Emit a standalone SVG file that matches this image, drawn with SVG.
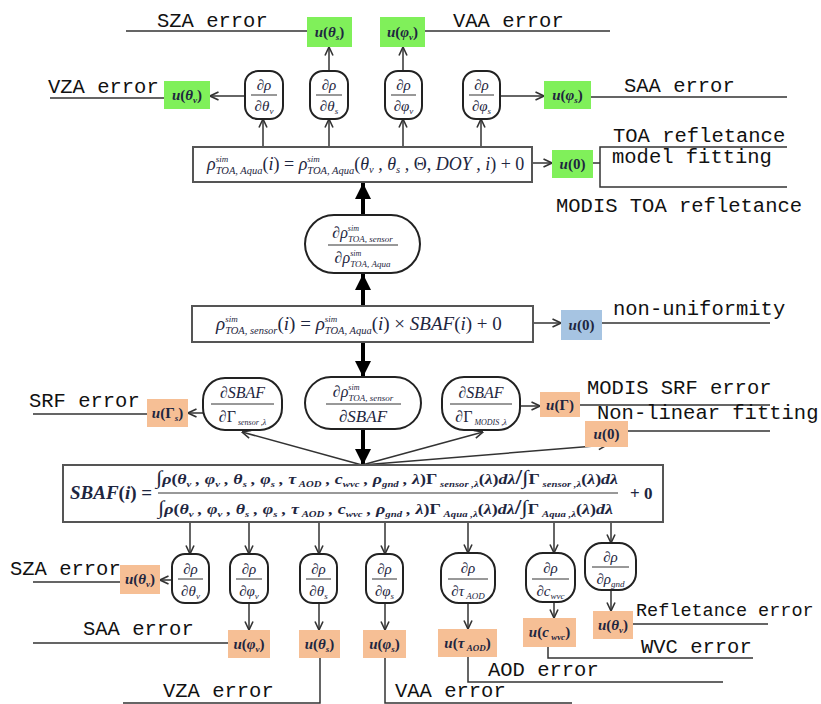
<svg xmlns="http://www.w3.org/2000/svg" width="821" height="704" viewBox="0 0 821 704">
<defs>
<style>
.lbl{font-family:"Liberation Mono","DejaVu Sans Mono",monospace;font-size:20.5px;fill:#111}
.m{font-family:"Liberation Serif","Times New Roman",serif;font-style:italic;fill:#1e2640}
.u{font-size:15px;font-weight:bold}
.f{font-size:15px}
.up{font-style:normal}
.s{font-size:9px}
.sp{font-size:8px}
.s2{font-size:10.5px}
.sp2{font-size:9px}
.box{fill:#fff;stroke:#555;stroke-width:2}
.nd{fill:#fff;stroke:#222;stroke-width:2}
.ln{stroke:#333;stroke-width:1.5;fill:none}
.ar{stroke:#333;stroke-width:1.5;fill:none;marker-end:url(#ah)}
.tk{stroke:#000;stroke-width:4;fill:none;marker-end:url(#th)}
.fl{stroke:#333;stroke-width:1}
.g{fill:#80f05a}.o{fill:#f6bf95}.b{fill:#a6c4e2}
</style>
<marker id="ah" viewBox="0 0 10 10" refX="9.5" refY="5" markerWidth="10" markerHeight="10" markerUnits="userSpaceOnUse" orient="auto"><path d="M1,1 L9.5,5 L1,9" fill="none" stroke="#333" stroke-width="1.6"/></marker>
<marker id="th" viewBox="0 0 10 10" refX="10" refY="5" markerWidth="18" markerHeight="16" markerUnits="userSpaceOnUse" orient="auto"><path d="M0,0 L10,5 L0,10 Z" fill="#000"/></marker>
</defs>
<rect width="821" height="704" fill="#fff"/>

<g id="connectors">
<path class="ln" d="M126,31 H307 M425,31 H610 M50,98 H164 M591,97 H787 M593,163 H600 M787,147 H600 V187 H787 M602,323 H770 M33,414 H147 M580,405 H770 M628,431 H770 M33,582 H120 M33,643 H228 M320,658 V703 H123 M385,658 V703 H572 M468,657 V682 H723 M548,647 V658 H753 M633,624 H768"/>
<line class="ar" x1="245" y1="96" x2="210" y2="96"/>
<line class="ar" x1="329" y1="71" x2="329" y2="47"/>
<line class="ar" x1="403" y1="71" x2="403" y2="47"/>
<line class="ar" x1="500" y1="96" x2="544" y2="96"/>
<line class="ar" x1="263" y1="147" x2="263" y2="119"/>
<line class="ar" x1="329" y1="147" x2="329" y2="119"/>
<line class="ar" x1="403" y1="147" x2="403" y2="119"/>
<line class="ar" x1="481" y1="147" x2="481" y2="119"/>
<line class="ar" x1="532" y1="163" x2="552" y2="163"/>
<line class="tk" x1="363" y1="215" x2="363" y2="183"/>
<line class="tk" x1="363" y1="306" x2="363" y2="274"/>
<line class="ar" x1="533" y1="323" x2="561" y2="323"/>
<line class="tk" x1="363" y1="342" x2="363" y2="377"/>
<line class="tk" x1="363" y1="429" x2="363" y2="465"/>
<line class="ar" x1="203" y1="413" x2="188" y2="413"/>
<line class="ar" x1="520" y1="406" x2="540" y2="406"/>
<line class="ar" x1="362" y1="465" x2="242" y2="432"/>
<line class="ar" x1="362" y1="465" x2="483" y2="432"/>
<line class="ar" x1="362" y1="465" x2="607" y2="445"/>
<line class="ar" x1="190" y1="522" x2="190" y2="554"/>
<line class="ar" x1="249" y1="522" x2="249" y2="554"/>
<line class="ar" x1="319" y1="522" x2="319" y2="554"/>
<line class="ar" x1="385" y1="522" x2="385" y2="554"/>
<line class="ar" x1="468" y1="522" x2="468" y2="553"/>
<line class="ar" x1="554" y1="522" x2="554" y2="553"/>
<line class="ar" x1="611" y1="522" x2="611" y2="543"/>
<line class="ar" x1="172" y1="580" x2="160" y2="580"/>
<line class="ar" x1="249" y1="603" x2="249" y2="630"/>
<line class="ar" x1="319" y1="603" x2="319" y2="630"/>
<line class="ar" x1="385" y1="603" x2="385" y2="630"/>
<line class="ar" x1="468" y1="603" x2="468" y2="629"/>
<line class="ar" x1="554" y1="602" x2="554" y2="618"/>
<line class="ar" x1="611" y1="590" x2="611" y2="611"/>
</g>

<g id="labels">
<text class="lbl" x="157" y="27">SZA error</text>
<text class="lbl" x="453" y="27">VAA error</text>
<text class="lbl" x="48" y="93">VZA error</text>
<text class="lbl" x="624" y="92">SAA error</text>
<text class="lbl" x="613" y="142">TOA refletance</text>
<text class="lbl" x="612" y="163">model fitting</text>
<text class="lbl" x="556" y="212">MODIS TOA refletance</text>
<text class="lbl" x="613" y="315">non-uniformity</text>
<text class="lbl" x="29" y="407">SRF error</text>
<text class="lbl" x="587" y="394">MODIS SRF error</text>
<text class="lbl" x="597" y="419">Non-linear fitting</text>
<text class="lbl" x="10" y="575">SZA error</text>
<text class="lbl" x="83" y="635">SAA error</text>
<text class="lbl" x="163" y="697">VZA error</text>
<text class="lbl" x="395" y="697">VAA error</text>
<text class="lbl" x="488" y="676">AOD error</text>
<text class="lbl" x="641" y="653">WVC error</text>
<text class="lbl" x="636" y="616" style="font-size:18.5px">Refletance error</text>
</g>

<g id="u_theta_s_top"><rect class="g" x="307" y="17" width="45" height="30"/><text class="m u" x="329.5" y="37" text-anchor="middle">u<tspan class="up">(</tspan>θ<tspan class="s" dy="3">s</tspan><tspan class="up" dy="-3">)</tspan></text></g>
<g id="u_phi_v_top"><rect class="g" x="380" y="17" width="45" height="30"/><text class="m u" x="402.5" y="37" text-anchor="middle">u<tspan class="up">(</tspan>φ<tspan class="s" dy="3">v</tspan><tspan class="up" dy="-3">)</tspan></text></g>
<g id="u_theta_v_top"><rect class="g" x="164" y="81" width="46" height="28"/><text class="m u" x="187" y="100" text-anchor="middle">u<tspan class="up">(</tspan>θ<tspan class="s" dy="3">v</tspan><tspan class="up" dy="-3">)</tspan></text></g>
<g id="u_phi_s_top"><rect class="g" x="544" y="81" width="47" height="28"/><text class="m u" x="567.5" y="100" text-anchor="middle">u<tspan class="up">(</tspan>φ<tspan class="s" dy="3">s</tspan><tspan class="up" dy="-3">)</tspan></text></g>
<g id="u0_top"><rect class="g" x="552" y="150" width="41" height="28"/><text class="m u" x="572.5" y="169" text-anchor="middle">u<tspan class="up">(0)</tspan></text></g>

<g id="n_t1"><rect class="nd" x="245" y="71" width="38" height="48" rx="13"/><text class="m f" x="264" y="90" text-anchor="middle">∂ρ</text><line class="fl" x1="251" y1="95" x2="277" y2="95"/><text class="m f" x="264" y="111" text-anchor="middle">∂θ<tspan class="s" dy="3">v</tspan></text></g>
<g id="n_t2"><rect class="nd" x="310" y="71" width="38" height="48" rx="13"/><text class="m f" x="329" y="90" text-anchor="middle">∂ρ</text><line class="fl" x1="316" y1="95" x2="342" y2="95"/><text class="m f" x="329" y="111" text-anchor="middle">∂θ<tspan class="s" dy="3">s</tspan></text></g>
<g id="n_t3"><rect class="nd" x="385" y="71" width="37" height="48" rx="13"/><text class="m f" x="403.5" y="90" text-anchor="middle">∂ρ</text><line class="fl" x1="391" y1="95" x2="416" y2="95"/><text class="m f" x="403.5" y="111" text-anchor="middle">∂φ<tspan class="s" dy="3">v</tspan></text></g>
<g id="n_t4"><rect class="nd" x="463" y="71" width="37" height="48" rx="13"/><text class="m f" x="481.5" y="90" text-anchor="middle">∂ρ</text><line class="fl" x1="469" y1="95" x2="494" y2="95"/><text class="m f" x="481.5" y="111" text-anchor="middle">∂φ<tspan class="s" dy="3">s</tspan></text></g>

<g id="box_aqua"><rect class="box" x="193" y="147" width="339" height="35"/><text class="m" font-size="18" x="207" y="170">ρ<tspan class="sp2" dy="-8">sim</tspan><tspan class="s2" dx="-12.5" dy="12">TOA, Aqua</tspan><tspan class="up" dy="-4">(</tspan>i<tspan class="up">) = </tspan>ρ<tspan class="sp2" dy="-8">sim</tspan><tspan class="s2" dx="-12.5" dy="12">TOA, Aqua</tspan><tspan class="up" dy="-4">(</tspan>θ<tspan class="s2" dy="3">v</tspan><tspan dy="-3"> , </tspan>θ<tspan class="s2" dy="3">s</tspan><tspan dy="-3"> , </tspan><tspan class="up">Θ, </tspan>DOY , i<tspan class="up">) + 0</tspan></text></g>

<g id="n_ratio_aqua"><rect class="nd" x="305" y="215" width="115" height="58" rx="29"/><text class="m" font-size="16" x="362.5" y="238" text-anchor="middle">∂ρ<tspan class="sp" dy="-7">sim</tspan><tspan class="s" dx="-11" dy="11">TOA, sensor</tspan></text><line class="fl" x1="328" y1="245" x2="398" y2="245"/><text class="m" font-size="16" x="362.5" y="263" text-anchor="middle">∂ρ<tspan class="sp" dy="-7">sim</tspan><tspan class="s" dx="-11" dy="11">TOA, Aqua</tspan></text></g>

<g id="box_sensor"><rect class="box" x="192" y="306" width="341" height="36"/><text class="m" font-size="19" x="216" y="330">ρ<tspan class="sp2" dy="-8">sim</tspan><tspan class="s2" dx="-12.5" dy="12">TOA, sensor</tspan><tspan class="up" dy="-4">(</tspan>i<tspan class="up">) = </tspan>ρ<tspan class="sp2" dy="-8">sim</tspan><tspan class="s2" dx="-12.5" dy="12">TOA, Aqua</tspan><tspan class="up" dy="-4">(</tspan>i<tspan class="up">) × </tspan>SBAF<tspan class="up">(</tspan>i<tspan class="up">)  + 0</tspan></text></g>
<g id="u0_blue"><rect class="b" x="561" y="310" width="41" height="30"/><text class="m u" x="581.5" y="330" text-anchor="middle">u<tspan class="up">(0)</tspan></text></g>

<g id="n_sbaf_sensor"><rect class="nd" x="203" y="378" width="79" height="52" rx="22"/><text class="m" font-size="16" x="242.5" y="398" text-anchor="middle">∂SBAF</text><line class="fl" x1="211" y1="404" x2="274" y2="404"/><text class="m" font-size="16" x="242.5" y="422" text-anchor="middle"><tspan class="up">∂Γ</tspan><tspan class="sp" dy="3"> sensor ,λ</tspan></text></g>
<g id="n_rho_sbaf"><rect class="nd" x="305" y="377" width="116" height="52" rx="26"/><text class="m" font-size="16" x="363" y="397" text-anchor="middle">∂ρ<tspan class="sp" dy="-7">sim</tspan><tspan class="s" dx="-11" dy="11">TOA, sensor</tspan></text><line class="fl" x1="326" y1="404" x2="401" y2="404"/><text class="m" font-size="17" x="363" y="422" text-anchor="middle">∂SBAF</text></g>
<g id="n_sbaf_modis"><rect class="nd" x="442" y="377" width="78" height="53" rx="22"/><text class="m" font-size="16" x="481" y="398" text-anchor="middle">∂SBAF</text><line class="fl" x1="450" y1="404" x2="512" y2="404"/><text class="m" font-size="16" x="481" y="422" text-anchor="middle"><tspan class="up">∂Γ</tspan><tspan class="sp" dy="3"> MODIS ,λ</tspan></text></g>
<g id="u_gamma_s"><rect class="o" x="147" y="399" width="41" height="28"/><text class="m u" x="167.5" y="418" text-anchor="middle">u<tspan class="up">(Γ</tspan><tspan class="s" dy="3">s</tspan><tspan class="up" dy="-3">)</tspan></text></g>
<g id="u_gamma"><rect class="o" x="540" y="392" width="40" height="25"/><text class="m u" x="560" y="410" text-anchor="middle">u<tspan class="up">(Γ)</tspan></text></g>
<g id="u0_fit"><rect class="o" x="585" y="421" width="43" height="26"/><text class="m u" x="606.5" y="439" text-anchor="middle">u<tspan class="up">(0)</tspan></text></g>

<g id="box_sbaf"><rect class="box" x="63" y="465" width="600" height="57"/>
<text class="m" font-size="19" font-weight="bold" x="70" y="499">SBAF<tspan class="up">(</tspan>i<tspan class="up">) =</tspan></text>
<text class="m" font-size="15" font-weight="bold" x="156" y="484" textLength="462" lengthAdjust="spacingAndGlyphs"><tspan class="up" font-size="19">∫</tspan>ρ<tspan class="up">(</tspan>θ<tspan class="s" dy="3">v</tspan><tspan dy="-3"> , </tspan>φ<tspan class="s" dy="3">v</tspan><tspan dy="-3"> , </tspan>θ<tspan class="s" dy="3">s</tspan><tspan dy="-3"> , </tspan>φ<tspan class="s" dy="3">s</tspan><tspan dy="-3"> , </tspan>τ<tspan class="s" dy="3"> AOD</tspan><tspan dy="-3"> , </tspan>c<tspan class="s" dy="3">wvc</tspan><tspan dy="-3"> , </tspan>ρ<tspan class="s" dy="3">gnd</tspan><tspan dy="-3"> , </tspan>λ<tspan class="up">)Γ</tspan><tspan class="s" dy="3"> sensor ,λ</tspan><tspan class="up" dy="-3">(</tspan>λ<tspan class="up">)</tspan>dλ<tspan class="up" font-size="20">/∫</tspan><tspan class="up">Γ</tspan><tspan class="s" dy="3"> sensor ,λ</tspan><tspan class="up" dy="-3">(</tspan>λ<tspan class="up">)</tspan>dλ</text>
<line class="fl" x1="158" y1="493" x2="618" y2="493"/>
<text class="m" font-size="15" font-weight="bold" x="158" y="514" textLength="455" lengthAdjust="spacingAndGlyphs"><tspan class="up" font-size="19">∫</tspan>ρ<tspan class="up">(</tspan>θ<tspan class="s" dy="3">v</tspan><tspan dy="-3"> , </tspan>φ<tspan class="s" dy="3">v</tspan><tspan dy="-3"> , </tspan>θ<tspan class="s" dy="3">s</tspan><tspan dy="-3"> , </tspan>φ<tspan class="s" dy="3">s</tspan><tspan dy="-3"> , </tspan>τ<tspan class="s" dy="3"> AOD</tspan><tspan dy="-3"> , </tspan>c<tspan class="s" dy="3">wvc</tspan><tspan dy="-3"> , </tspan>ρ<tspan class="s" dy="3">gnd</tspan><tspan dy="-3"> , </tspan>λ<tspan class="up">)Γ</tspan><tspan class="s" dy="3"> Aqua ,λ</tspan><tspan class="up" dy="-3">(</tspan>λ<tspan class="up">)</tspan>dλ<tspan class="up" font-size="20">/∫</tspan><tspan class="up">Γ</tspan><tspan class="s" dy="3"> Aqua ,λ</tspan><tspan class="up" dy="-3">(</tspan>λ<tspan class="up">)</tspan>dλ</text>
<text class="m up" font-size="17" font-weight="bold" x="630" y="499">+ 0</text></g>

<g id="n_b1"><rect class="nd" x="172" y="554" width="37" height="49" rx="13"/><text class="m f" x="190.5" y="574" text-anchor="middle">∂ρ</text><line class="fl" x1="178" y1="579" x2="203" y2="579"/><text class="m f" x="190.5" y="596" text-anchor="middle">∂θ<tspan class="s" dy="3">v</tspan></text></g>
<g id="n_b2"><rect class="nd" x="230" y="554" width="38" height="49" rx="13"/><text class="m f" x="249" y="574" text-anchor="middle">∂ρ</text><line class="fl" x1="236" y1="579" x2="262" y2="579"/><text class="m f" x="249" y="596" text-anchor="middle">∂φ<tspan class="s" dy="3">v</tspan></text></g>
<g id="n_b3"><rect class="nd" x="300" y="554" width="37" height="49" rx="13"/><text class="m f" x="318.5" y="574" text-anchor="middle">∂ρ</text><line class="fl" x1="306" y1="579" x2="331" y2="579"/><text class="m f" x="318.5" y="596" text-anchor="middle">∂θ<tspan class="s" dy="3">s</tspan></text></g>
<g id="n_b4"><rect class="nd" x="366" y="554" width="37" height="49" rx="13"/><text class="m f" x="384.5" y="574" text-anchor="middle">∂ρ</text><line class="fl" x1="372" y1="579" x2="397" y2="579"/><text class="m f" x="384.5" y="596" text-anchor="middle">∂φ<tspan class="s" dy="3">s</tspan></text></g>
<g id="n_b5"><rect class="nd" x="441" y="553" width="54" height="50" rx="18"/><text class="m f" x="468" y="573" text-anchor="middle">∂ρ</text><line class="fl" x1="448" y1="579" x2="488" y2="579"/><text class="m f" x="468" y="596" text-anchor="middle">∂τ<tspan class="s" dy="3"> AOD</tspan></text></g>
<g id="n_b6"><rect class="nd" x="526" y="553" width="49" height="49" rx="17"/><text class="m f" x="550.5" y="573" text-anchor="middle">∂ρ</text><line class="fl" x1="532" y1="579" x2="569" y2="579"/><text class="m f" x="550.5" y="596" text-anchor="middle">∂c<tspan class="s" dy="3">wvc</tspan></text></g>
<g id="n_b7"><rect class="nd" x="585" y="543" width="51" height="47" rx="17"/><text class="m f" x="610.5" y="562" text-anchor="middle">∂ρ</text><line class="fl" x1="592" y1="567" x2="629" y2="567"/><text class="m f" x="610.5" y="584" text-anchor="middle">∂ρ<tspan class="s" dy="3">gnd</tspan></text></g>

<g id="u_b1"><rect class="o" x="120" y="565" width="40" height="29"/><text class="m u" x="140" y="584" text-anchor="middle">u<tspan class="up">(</tspan>θ<tspan class="s" dy="3">v</tspan><tspan class="up" dy="-3">)</tspan></text></g>
<g id="u_b2"><rect class="o" x="228" y="630" width="42" height="28"/><text class="m u" x="249" y="649" text-anchor="middle">u<tspan class="up">(</tspan>φ<tspan class="s" dy="3">v</tspan><tspan class="up" dy="-3">)</tspan></text></g>
<g id="u_b3"><rect class="o" x="299" y="630" width="41" height="28"/><text class="m u" x="319.5" y="649" text-anchor="middle">u<tspan class="up">(</tspan>θ<tspan class="s" dy="3">s</tspan><tspan class="up" dy="-3">)</tspan></text></g>
<g id="u_b4"><rect class="o" x="363" y="630" width="43" height="28"/><text class="m u" x="384.5" y="649" text-anchor="middle">u<tspan class="up">(</tspan>φ<tspan class="s" dy="3">s</tspan><tspan class="up" dy="-3">)</tspan></text></g>
<g id="u_b5"><rect class="o" x="438" y="629" width="59" height="28"/><text class="m u" x="467.5" y="648" text-anchor="middle">u<tspan class="up">(</tspan>τ<tspan class="s" dy="3"> AOD</tspan><tspan class="up" dy="-3">)</tspan></text></g>
<g id="u_b6"><rect class="o" x="523" y="618" width="53" height="29"/><text class="m u" x="549.5" y="637" text-anchor="middle">u<tspan class="up">(</tspan>c<tspan class="s" dy="3"> wvc</tspan><tspan class="up" dy="-3">)</tspan></text></g>
<g id="u_b7"><rect class="o" x="593" y="611" width="40" height="28"/><text class="m u" x="613" y="630" text-anchor="middle">u<tspan class="up">(</tspan>θ<tspan class="s" dy="3">v</tspan><tspan class="up" dy="-3">)</tspan></text></g>
</svg>
